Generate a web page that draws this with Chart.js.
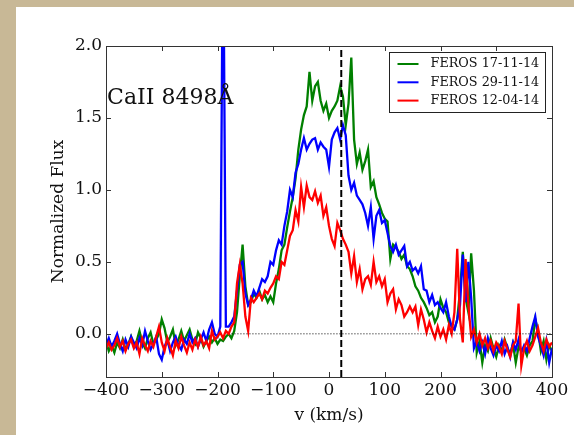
<!DOCTYPE html>
<html>
<head>
<meta charset="utf-8">
<script src="https://cdn.jsdelivr.net/npm/chart.js@4.4.1/dist/chart.umd.min.js"></script>
<style>
  html, body { margin: 0; padding: 0; background: #c8b896; width: 574px; height: 435px; overflow: hidden; }
  #wrap { position: absolute; left: 16px; top: 7px; width: 558px; height: 428px; background: #fff; }
</style>
</head>
<body>
<div id="wrap"><canvas id="chart" width="558" height="428"></canvas></div>
<script>
// velocity grid of the spectra (km/s)
const velStart = -400;
const velStep = 5;

// FEROS 17-11-14
const flux171114 = [
  -0.05, -0.12, -0.08, -0.13, -0.06, -0.10, -0.04, -0.11, -0.07, -0.02,
  -0.09, -0.05, 0.02, -0.06, -0.10, -0.03, 0.01, -0.07, -0.04, 0.00,
  0.10, 0.04, -0.06, -0.02, 0.03, -0.08, -0.04, 0.02, -0.05, -0.01,
  0.03, -0.04, -0.07, 0.01, -0.03, -0.09, -0.05, -0.02, -0.06, -0.03,
  -0.07, -0.04, -0.05, -0.02, 0.00, -0.03, 0.02, 0.15, 0.40, 0.62,
  0.33, 0.20, 0.22, 0.28, 0.25, 0.30, 0.24, 0.27, 0.22, 0.26,
  0.22, 0.35, 0.45, 0.58, 0.62, 0.74, 0.85, 0.95, 1.08, 1.28,
  1.42, 1.52, 1.58, 1.82, 1.62, 1.72, 1.75, 1.62, 1.55, 1.60,
  1.50, 1.55, 1.58, 1.62, 1.72, 1.65, 1.45, 1.60, 1.92, 1.35,
  1.18, 1.26, 1.14, 1.20, 1.28, 1.02, 1.06, 0.95, 0.90, 0.84,
  0.80, 0.78, 0.52, 0.62, 0.60, 0.57, 0.52, 0.55, 0.47, 0.45,
  0.40, 0.33, 0.30, 0.25, 0.22, 0.18, 0.13, 0.15, 0.08, 0.12,
  0.24, 0.18, 0.15, 0.08, 0.05, 0.03, 0.10, 0.30, 0.57, 0.25,
  0.15, 0.56, 0.30, -0.13, -0.05, -0.20, -0.08, -0.12, -0.03, -0.10,
  -0.16, -0.08, -0.12, -0.04, -0.10, -0.14, -0.07, -0.20, -0.09, -0.12,
  -0.10, -0.15, -0.08, -0.05, 0.10, 0.02, -0.12, -0.05, -0.18, -0.08,
  -0.12,
];

// FEROS 29-11-14
const flux291114 = [
  -0.08, -0.03, -0.09, -0.05, 0.00, -0.07, -0.12, -0.04, -0.09, -0.02,
  -0.06, -0.10, -0.03, -0.08, 0.02, -0.05, -0.11, -0.07, -0.02, -0.14,
  -0.18, -0.09, -0.04, -0.12, -0.06, -0.02, -0.08, -0.11, -0.04, -0.07,
  0.00, -0.06, -0.03, -0.09, -0.04, 0.01, -0.05, 0.03, 0.08, 0.00,
  -0.02, 0.05, 3.00, 0.05, 0.05, 0.08, 0.12, 0.30, 0.48, 0.50,
  0.28, 0.20, 0.24, 0.30, 0.26, 0.32, 0.38, 0.36, 0.40, 0.50,
  0.48, 0.58, 0.65, 0.62, 0.75, 0.85, 1.00, 0.95, 1.12, 1.18,
  1.28, 1.36, 1.28, 1.32, 1.35, 1.36, 1.28, 1.33, 1.30, 1.28,
  1.16, 1.35, 1.40, 1.43, 1.35, 1.45, 1.38, 1.10, 1.00, 1.05,
  0.96, 0.93, 0.90, 0.84, 0.75, 0.88, 0.66, 0.82, 0.86, 0.77,
  0.79, 0.70, 0.61, 0.57, 0.62, 0.55, 0.58, 0.61, 0.47, 0.50,
  0.44, 0.46, 0.42, 0.47, 0.31, 0.30, 0.22, 0.27, 0.20, 0.22,
  0.18, 0.15, 0.22, 0.12, 0.05, 0.03, 0.10, 0.20, 0.55, 0.22,
  0.50, 0.25, -0.10, -0.05, -0.12, -0.06, -0.14, -0.03, -0.10, -0.15,
  -0.08, -0.12, -0.05, -0.14, -0.09, -0.16, -0.06, -0.11, -0.04, -0.13,
  -0.08, -0.12, -0.03, 0.05, 0.12, -0.02, -0.08, -0.15, -0.05, -0.20,
  -0.10,
];

// FEROS 12-04-14
const flux120414 = [
  -0.10, -0.06, -0.11, -0.08, -0.03, -0.09, -0.05, -0.12, -0.07, -0.04,
  -0.10, -0.06, -0.14, -0.03, -0.08, -0.12, -0.05, -0.09, -0.02, 0.05,
  -0.06, -0.12, -0.03, -0.09, -0.15, -0.05, -0.10, -0.02, -0.08, -0.13,
  -0.06, -0.11, -0.04, -0.09, -0.02, -0.08, -0.05, -0.10, 0.02, -0.04,
  -0.02, 0.01, -0.03, 0.02, 0.00, 0.05, 0.08, 0.35, 0.48, 0.35,
  0.12, 0.02, 0.25, 0.22, 0.25, 0.28, 0.24, 0.30, 0.28, 0.32,
  0.35, 0.40, 0.38, 0.50, 0.48, 0.58, 0.68, 0.72, 0.86, 0.78,
  1.02, 0.88, 1.03, 0.95, 0.93, 0.99, 0.91, 0.96, 0.82, 0.88,
  0.75, 0.66, 0.61, 0.77, 0.72, 0.66, 0.62, 0.57, 0.42, 0.54,
  0.36, 0.45, 0.31, 0.38, 0.40, 0.34, 0.50, 0.36, 0.40, 0.33,
  0.38, 0.22, 0.28, 0.31, 0.17, 0.24, 0.20, 0.12, 0.15, 0.19,
  0.15, 0.19, 0.06, 0.17, 0.10, 0.01, 0.08, 0.02, -0.03, 0.05,
  -0.02, 0.03, -0.04, 0.06, 0.00, 0.15, 0.59, 0.10, -0.06, 0.52,
  0.20, -0.02, 0.03, -0.06, 0.00, -0.08, -0.03, -0.10, -0.05, -0.12,
  -0.06, -0.09, -0.14, -0.05, -0.11, -0.16, -0.08, -0.05, 0.21, -0.22,
  -0.10, -0.05, -0.12, -0.08, -0.02, 0.04, -0.06, -0.12, -0.04, -0.09,
  -0.06,
];

const xTicks = [-400, -300, -200, -100, 0, 100, 200, 300, 400];
const yTicks = [0.0, 0.5, 1.0, 1.5, 2.0];
const xRange = [-400, 400];
const yRange = [-0.3, 2.0];

const restVelocity = 22;      // dashed vertical marker
const zeroLineFrom = -175;    // dotted continuum level starts here
const lineLabel = "CaII 8498Å";
const labelPos = { v: -398, flux: 1.6 };

const serif = "'DejaVu Serif', 'Liberation Serif', serif";
const frameColor = "#333";

function toPoints(values) {
  return values.map((y, i) => ({ x: velStart + i * velStep, y }));
}

const minus = (s) => String(s).replace("-", "\u2212");

const frameAndTicks = {
  id: "frameAndTicks",
  afterDatasetsDraw(chart) {
    const { ctx, chartArea: a, scales } = chart;
    ctx.save();
    ctx.strokeStyle = frameColor;
    ctx.lineWidth = 1;
    ctx.beginPath();
    for (const v of xTicks) {
      const px = Math.round(scales.x.getPixelForValue(v)) + 0.5;
      ctx.moveTo(px, a.bottom); ctx.lineTo(px, a.bottom - 5);
      ctx.moveTo(px, a.top); ctx.lineTo(px, a.top + 5);
    }
    for (const v of yTicks) {
      const py = Math.round(scales.y.getPixelForValue(v)) + 0.5;
      ctx.moveTo(a.left, py); ctx.lineTo(a.left + 5, py);
      ctx.moveTo(a.right, py); ctx.lineTo(a.right - 5, py);
    }
    ctx.stroke();
    ctx.strokeRect(Math.round(a.left) + 0.5, Math.round(a.top) + 0.5,
      Math.round(a.right - a.left), Math.round(a.bottom - a.top));

    // line identification
    ctx.fillStyle = "#111";
    ctx.font = `22px ${serif}`;
    ctx.textBaseline = "alphabetic";
    ctx.textAlign = "left";
    ctx.fillText(lineLabel, scales.x.getPixelForValue(labelPos.v),
      scales.y.getPixelForValue(labelPos.flux));

    // legend box
    const items = chart.data.datasets.filter((d) => d.inLegend);
    const w = 156, h = 60;
    const bx = Math.round(a.right - 7 - w) + 0.5;
    const by = Math.round(a.top + 6) + 0.5;
    ctx.fillStyle = "#fff";
    ctx.fillRect(bx, by, w, h);
    ctx.strokeStyle = "#222";
    ctx.strokeRect(bx, by, w, h);
    ctx.font = `12.8px ${serif}`;
    ctx.textBaseline = "middle";
    items.forEach((d, i) => {
      const ry = by + 11.5 + i * 18.3;
      ctx.strokeStyle = d.borderColor;
      ctx.lineWidth = 2;
      ctx.beginPath();
      ctx.moveTo(bx + 8, ry); ctx.lineTo(bx + 29, ry);
      ctx.stroke();
      ctx.fillStyle = "#111";
      ctx.fillText(d.label, bx + 41, ry);
    });
    ctx.restore();
  },
};

const spectrum = (label, values, color, order) => ({
  label,
  data: toPoints(values),
  borderColor: color,
  backgroundColor: color,
  borderWidth: 2.3,
  pointRadius: 0,
  tension: 0,
  order,
  inLegend: true,
});

new Chart(document.getElementById("chart"), {
  type: "line",
  data: {
    datasets: [
      spectrum("FEROS 17-11-14", flux171114, "#008000", 3),
      spectrum("FEROS 29-11-14", flux291114, "#0000ff", 2),
      spectrum("FEROS 12-04-14", flux120414, "#ff0000", 1),
      {
        label: "rest",
        data: [{ x: restVelocity, y: yRange[0] }, { x: restVelocity, y: yRange[1] }],
        borderColor: "#000",
        borderWidth: 2,
        borderDash: [7, 3],
        pointRadius: 0,
        order: 0,
      },
      {
        label: "continuum",
        data: [{ x: zeroLineFrom, y: 0 }, { x: xRange[1], y: 0 }],
        borderColor: "#000",
        borderWidth: 1,
        borderDash: [1, 2],
        pointRadius: 0,
        order: 0,
      },
    ],
  },
  options: {
    responsive: false,
    animation: false,
    layout: { padding: { left: 30, top: 39, right: 22, bottom: 0 } },
    plugins: { legend: { display: false }, tooltip: { enabled: false } },
    scales: {
      x: {
        type: "linear",
        min: xRange[0],
        max: xRange[1],
        afterBuildTicks: (s) => { s.ticks = xTicks.map((value) => ({ value })); },
        afterFit: (s) => { s.height = 58; },
        grid: { display: false, drawTicks: false },
        border: { display: false },
        ticks: {
          padding: 3,
          color: "#111",
          font: { family: serif, size: 17 },
          maxRotation: 0,
          callback: (v) => minus(v),
        },
        title: {
          display: true,
          text: "v (km/s)",
          color: "#111",
          font: { family: serif, size: 17 },
          padding: { top: 0, bottom: 9 },
        },
      },
      y: {
        min: yRange[0],
        max: yRange[1],
        afterBuildTicks: (s) => { s.ticks = yTicks.map((value) => ({ value })); },
        afterFit: (s) => { s.width = 60; },
        grid: { display: false, drawTicks: false },
        border: { display: false },
        ticks: {
          padding: 4,
          color: "#111",
          font: { family: serif, size: 17 },
          callback: (v) => minus(Number(v).toFixed(1)),
        },
        title: {
          display: true,
          text: "Normalized Flux",
          color: "#111",
          font: { family: serif, size: 17 },
          padding: { top: 2, bottom: 0 },
        },
      },
    },
  },
  plugins: [frameAndTicks],
});
</script>
</body>
</html>
